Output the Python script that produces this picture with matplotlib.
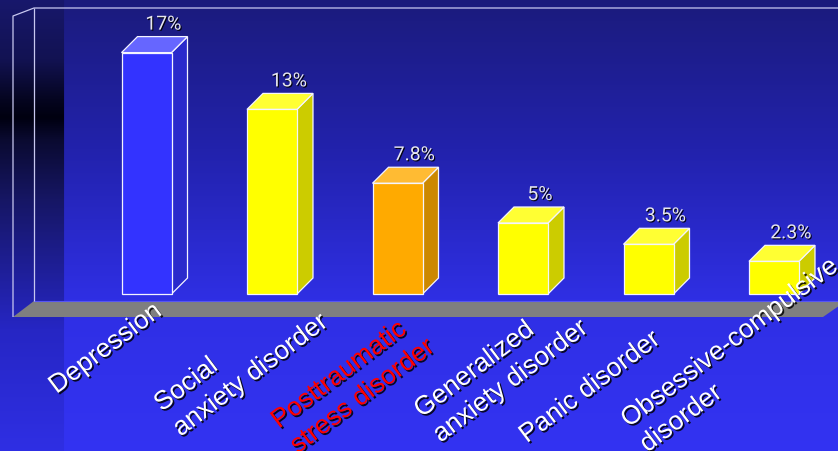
import numpy as np
import matplotlib
matplotlib.use("Agg")
import matplotlib.pyplot as plt
from matplotlib.patches import Polygon
import matplotlib.patheffects as pe

# Lifetime prevalence of common disorders (%)
categories = [
    "Depression",
    "Social\nanxiety disorder",
    "Posttraumatic\nstress disorder",
    "Generalized\nanxiety disorder",
    "Panic disorder",
    "Obsessive-compulsive\ndisorder",
]
prevalence = [17, 13, 7.8, 5, 3.5, 2.3]
value_labels = ["17%", "13%", "7.8%", "5%", "3.5%", "2.3%"]

# ---- styling -------------------------------------------------------------
W, H = 838, 452
BLUE = ("#3333ff", "#6666ff", "#2a2acc")
YELLOW = ("#ffff00", "#ffff33", "#cccc00")
ORANGE = ("#ffaa00", "#ffbb33", "#cc8800")
bar_colors = [BLUE, YELLOW, ORANGE, YELLOW, YELLOW, YELLOW]
label_colors = ["white", "white", "#ff0000", "white", "white", "white"]
# anchor of each label's last line (pixels from the bar centre at its base)
label_offsets = [(16.5, -20), (53, -25), (34, -50), (62, -31), (13, -48), (-131, -153)]
label_ha = ["right", "right", "right", "right", "right", "left"]

fig = plt.figure(figsize=(W / 100, H / 100), dpi=100)

# ---- background: vertical gradient with a dark strip on the left -----------
bg = fig.add_axes([0, 0, 1, 1])
bg.set_xlim(0, W)
bg.set_ylim(H, 0)
bg.axis("off")

ys = np.arange(H)
def ramp(stops):
    pos = [s[0] for s in stops]
    return np.stack([np.interp(ys, pos, [s[1][c] for s in stops]) for c in range(3)], axis=1)

main_col = ramp([(0, (27, 27, 124)), (150, (34, 34, 172)), (300, (47, 47, 228)), (452, (51, 51, 242))])
strip_col = ramp([(0, (24, 24, 108)), (60, (18, 18, 82)), (100, (5, 5, 32)), (118, (0, 0, 16)),
                  (140, (10, 10, 48)), (200, (22, 22, 100)), (330, (38, 38, 196)), (452, (47, 47, 228))])
img = np.repeat(main_col[:, None, :], W, axis=1)
img[:, :64, :] = strip_col[:, None, :]
bg.imshow(img / 255.0, extent=(0, W, H, 0), aspect="auto", interpolation="bilinear", zorder=0)

# floor
bg.add_patch(Polygon([(13, 318), (34, 302), (846, 302), (823, 318)], closed=True,
                     fc="#7f7f7f", ec="none", zorder=1))
bg.plot([34, W], [302, 302], color="#5555f5", lw=0.8, zorder=2)
# wall outline
wall_kw = dict(color="#c8c8f0", lw=0.9, zorder=2, solid_capstyle="butt")
bg.plot([13, 13, 34, W], [318, 17, 9, 9], **wall_kw)
bg.plot([34, 34], [9, 302], **wall_kw)

# ---- bars ----------------------------------------------------------------
ax = fig.add_axes([0, 0, 1, 1])
ax.patch.set_alpha(0)
ax.axis("off")
cat_px, x0_px, base_px, pct_px = 125.5, 146.5, 295.0, 14.2
ax.set_xlim(-x0_px / cat_px, (W - x0_px) / cat_px)
ax.set_ylim((base_px - H) / pct_px, base_px / pct_px)

bar_w = 50 / cat_px
ddx, ddy = 16 / cat_px, 16 / pct_px
edge = dict(ec="#f4f4ff", lw=0.9, joinstyle="miter")

shadow_small = [pe.withSimplePatchShadow(offset=(0.8, -0.8), shadow_rgbFace="black", alpha=0.9)]
shadow_big = [pe.withSimplePatchShadow(offset=(1.2, -1.2), shadow_rgbFace="black", alpha=0.85)]

for i, (v, (front, top, side)) in enumerate(zip(prevalence, bar_colors)):
    xl, xr = i - bar_w / 2, i + bar_w / 2
    ax.add_patch(Polygon([(xr, 0), (xr + ddx, ddy), (xr + ddx, v + ddy), (xr, v)],
                         closed=True, fc=side, zorder=3, **edge))
    ax.add_patch(Polygon([(xl, v), (xr, v), (xr + ddx, v + ddy), (xl + ddx, v + ddy)],
                         closed=True, fc=top, zorder=3, **edge))
    ax.add_patch(Polygon([(xl, 0), (xr, 0), (xr, v), (xl, v)],
                         closed=True, fc=front, zorder=4, **edge))
    ax.annotate(value_labels[i], xy=(i, v + ddy), xytext=(17, 3), textcoords="offset pixels",
                ha="center", va="bottom", fontsize=14, color="#e6e6ee",
                family=["Roboto", "Liberation Sans"],
                path_effects=shadow_small, zorder=6)

# ---- rotated category labels --------------------------------------------
for i, name in enumerate(categories):
    ax.annotate(name, xy=(i, 0), xytext=label_offsets[i], textcoords="offset pixels",
                rotation=37, rotation_mode="anchor", ha=label_ha[i], va="baseline",
                multialignment="left", linespacing=1.38, fontsize=19,
                family=["Liberation Sans", "DejaVu Sans"], color=label_colors[i],
                path_effects=shadow_big, zorder=6, annotation_clip=False)

fig.savefig("out.png", dpi=100)
